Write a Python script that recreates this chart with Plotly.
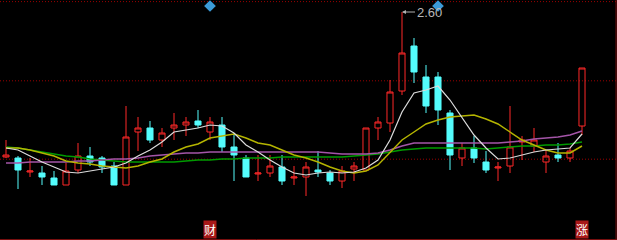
import plotly.graph_objects as go

# ---- data (prices) ----
idx = list(range(49))
opens = [2.2375, 2.235, 2.20, 2.1975, 2.185, 2.1675, 2.205, 2.24, 2.235, 2.215,
         2.1675, 2.30, 2.31, 2.28, 2.31, 2.3175, 2.3275, 2.30, 2.3175, 2.2625,
         2.235, 2.195, 2.1975, 2.2125, 2.185, 2.1875, 2.205, 2.1975, 2.1775, 2.2075,
         2.205, 2.31, 2.3225, 2.4025, 2.515, 2.4375, 2.4375, 2.3475, 2.235, 2.26,
         2.225, 2.21, 2.215, 2.275, 2.265, 2.225, 2.2425, 2.235, 2.315]
highs = [2.28, 2.24, 2.235, 2.215, 2.2025, 2.2225, 2.2725, 2.2625, 2.24, 2.225,
         2.365, 2.3375, 2.3275, 2.31, 2.3475, 2.3375, 2.355, 2.3375, 2.3375, 2.2975,
         2.2425, 2.2425, 2.2425, 2.2425, 2.215, 2.225, 2.2525, 2.205, 2.215, 2.225,
         2.31, 2.3375, 2.43, 2.60, 2.535, 2.4675, 2.45, 2.355, 2.2725, 2.29,
         2.2525, 2.225, 2.365, 2.29, 2.31, 2.255, 2.2725, 2.26, 2.46]
lows = [2.235, 2.1575, 2.1875, 2.1675, 2.1675, 2.1675, 2.1975, 2.215, 2.1975, 2.1675,
        2.1675, 2.2525, 2.2725, 2.2625, 2.28, 2.29, 2.31, 2.28, 2.25, 2.1775,
        2.1875, 2.1775, 2.1875, 2.1675, 2.1675, 2.14, 2.1875, 2.1675, 2.16, 2.1775,
        2.205, 2.28, 2.30, 2.3925, 2.4225, 2.3475, 2.3175, 2.205, 2.215, 2.2225,
        2.1975, 2.1775, 2.1975, 2.23, 2.25, 2.1975, 2.225, 2.225, 2.2925]
closes = [2.2425, 2.205, 2.2025, 2.1875, 2.1675, 2.2025, 2.24, 2.225, 2.2125, 2.1675,
          2.2875, 2.31, 2.28, 2.2975, 2.3175, 2.325, 2.3175, 2.325, 2.2625, 2.2425,
          2.1875, 2.1975, 2.215, 2.1775, 2.1875, 2.2125, 2.20, 2.1775, 2.2025, 2.215,
          2.31, 2.325, 2.40, 2.4975, 2.45, 2.365, 2.355, 2.2425, 2.26, 2.235,
          2.205, 2.2125, 2.2625, 2.28, 2.28, 2.24, 2.235, 2.2525, 2.46]

ma_white = [2.26, 2.255, 2.24, 2.225, 2.2125, 2.20, 2.1975, 2.2025, 2.2075, 2.2125,
            2.2225, 2.24, 2.255, 2.275, 2.30, 2.305, 2.31, 2.3175, 2.315, 2.2975,
            2.2675, 2.25, 2.23, 2.2125, 2.1975, 2.1925, 2.1975, 2.20, 2.1975, 2.20,
            2.21, 2.23, 2.28, 2.35, 2.3975, 2.405, 2.415, 2.38, 2.335, 2.2925,
            2.26, 2.2325, 2.235, 2.2425, 2.25, 2.255, 2.2575, 2.26, 2.295]
ma_yellow = [2.26, 2.26, 2.255, 2.2475, 2.24, 2.2275, 2.2225, 2.22, 2.215, 2.2125,
             2.21, 2.215, 2.225, 2.2325, 2.25, 2.2625, 2.27, 2.285, 2.29, 2.295,
             2.285, 2.2725, 2.2675, 2.255, 2.2425, 2.235, 2.225, 2.2125, 2.2025, 2.1975,
             2.2025, 2.2175, 2.25, 2.28, 2.30, 2.32, 2.33, 2.3375, 2.34, 2.3425,
             2.3325, 2.32, 2.30, 2.28, 2.2675, 2.255, 2.2475, 2.2475, 2.265]
ma_purple = [2.2225, 2.2225, 2.225, 2.225, 2.225, 2.225, 2.2275, 2.2275, 2.23, 2.2325,
             2.2325, 2.235, 2.24, 2.2425, 2.245, 2.2475, 2.2475, 2.25, 2.25, 2.25,
             2.25, 2.25, 2.25, 2.25, 2.25, 2.25, 2.25, 2.2475, 2.245, 2.245,
             2.245, 2.2475, 2.255, 2.265, 2.2725, 2.2725, 2.2725, 2.2725, 2.2725, 2.2725,
             2.2725, 2.2725, 2.275, 2.2775, 2.2825, 2.285, 2.2875, 2.2925, 2.3025]
ma_green = [2.2625, 2.26, 2.255, 2.25, 2.245, 2.24, 2.2375, 2.2325, 2.23, 2.2275,
            2.225, 2.225, 2.225, 2.225, 2.225, 2.2275, 2.23, 2.23, 2.2325, 2.2325,
            2.235, 2.235, 2.235, 2.2375, 2.2375, 2.2375, 2.2375, 2.2375, 2.2375, 2.24,
            2.2425, 2.245, 2.25, 2.255, 2.2575, 2.26, 2.26, 2.26, 2.26, 2.26,
            2.2575, 2.26, 2.2625, 2.265, 2.265, 2.2675, 2.2675, 2.27, 2.275]

grid_levels = [2.626, 2.428, 2.232]
diamond_idx = [17, 36]
diamond_price = [2.615, 2.615]
marker_idx = [17, 48]
marker_text = ["财", "涨"]
peak_idx = 33
peak_label = "2.60"

fig = go.Figure()
fig.add_trace(go.Candlestick(
    x=idx, open=opens, high=highs, low=lows, close=closes,
    increasing=dict(line=dict(color="#ff2828", width=1), fillcolor="rgba(0,0,0,0)"),
    decreasing=dict(line=dict(color="#54fcfc", width=1), fillcolor="#54fcfc"),
    whiskerwidth=0, hoverinfo="skip", showlegend=False))

for vals, col, w in [(ma_green, "#009a00", 1.5), (ma_purple, "#a455a8", 1.5),
                     (ma_yellow, "#b4b400", 1.5), (ma_white, "#dcdcdc", 1.2)]:
    fig.add_trace(go.Scatter(x=idx, y=vals, mode="lines",
                             line=dict(color=col, width=w), showlegend=False,
                             hoverinfo="skip"))

fig.add_trace(go.Scatter(x=diamond_idx, y=diamond_price, mode="markers",
                         marker=dict(symbol="diamond", size=9, color="#3b9bd8"),
                         showlegend=False, hoverinfo="skip"))

for g in grid_levels:
    fig.add_shape(type="line", xref="paper", x0=0, x1=1, yref="y", y0=g, y1=g,
                  line=dict(color="#9a0000", width=1, dash="1px,2px"), layer="below")
fig.add_shape(type="line", xref="paper", x0=0, x1=1, yref="paper", y0=0.002, y1=0.002,
              line=dict(color="#7a1010", width=1))
fig.add_shape(type="line", xref="paper", x0=0.9985, x1=0.9985, yref="paper", y0=0, y1=1,
              line=dict(color="#7a1010", width=1))

fig.add_annotation(x=peak_idx, y=highs[peak_idx], text=peak_label, showarrow=True,
                   ax=27, ay=0, arrowhead=2, arrowsize=0.8, arrowwidth=1,
                   arrowcolor="#b0b0b0", standoff=0, startstandoff=0,
                   font=dict(family="Liberation Sans", size=13, color="#b8b8b8"))

for i, t in zip(marker_idx, marker_text):
    fig.add_annotation(x=i, y=0.045, xref="x", yref="paper", yanchor="middle",
                       text=t, showarrow=False, bgcolor="#a81818", borderpad=0,
                       font=dict(family="Noto Sans CJK SC", size=12, color="#ffffff"))

fig.update_layout(
    width=617, height=240, margin=dict(l=0, r=0, t=0, b=0),
    paper_bgcolor="#000000", plot_bgcolor="#000000", boxgap=0.28,
    xaxis=dict(range=[-0.5, 50.917], visible=False, rangeslider=dict(visible=False),
               showgrid=False, zeroline=False),
    yaxis=dict(range=[2.03, 2.63], visible=False, showgrid=False, zeroline=False),
)
fig.write_html("out.html")
